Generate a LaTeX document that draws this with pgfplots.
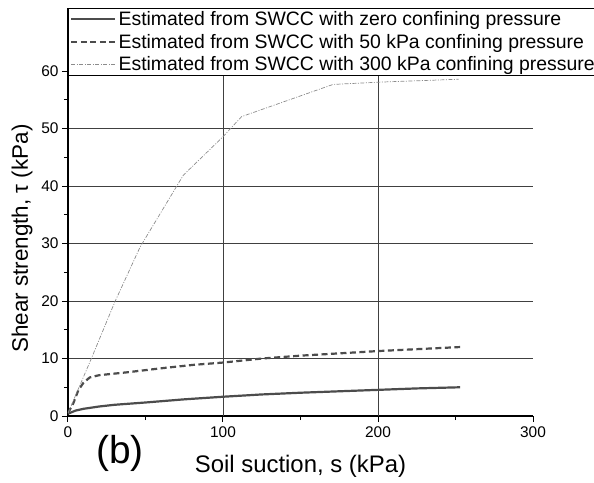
\documentclass[border=0pt]{standalone}
\usepackage{fontspec}
\setmainfont{Liberation Sans}
\usepackage{pgfplots}
\pgfplotsset{compat=1.18}
\begin{document}
\begin{tikzpicture}
\useasboundingbox (-68bp,-67bp) rectangle (526bp,416bp);
\begin{axis}[
  at={(0,0)}, anchor=south west,
  scale only axis, width=465bp, height=408bp,
  xmin=0, xmax=300, ymin=0, ymax=71,
  axis x line=bottom, axis y line=left,
  axis line style={-, line width=1.2bp, black},
  xtick={0,100,200,300}, ytick={0,10,...,60},
  minor x tick num=1, minor y tick num=1,
  tick align=outside, major tick length=6bp, minor tick length=4bp,
  tick style={line width=1bp, black},
  ymajorgrids, grid style={black!75, line width=0.8bp},
  extra x ticks={100,200}, extra x tick labels={},
  extra x tick style={grid=major, major tick length=0pt},
  ticklabel style={font=\fontsize{15.5}{17}\selectfont},
  xticklabel style={yshift=-1bp},
  /pgf/number format/assume math mode=true,
  xlabel={Soil suction, s (kPa)},
  ylabel={Shear strength, τ (kPa)},
  xlabel style={font=\fontsize{24}{28}\selectfont, at={(axis description cs:0.5,-0.1225)}, anchor=center},
  ylabel style={font=\fontsize{22.5}{26}\selectfont, at={(axis description cs:-0.099,0.435)}, anchor=center},
  legend cell align=left,
  legend style={at={(0,1)}, anchor=north west, draw=black, line width=0.8bp, fill=white,
    font=\fontsize{19.5}{22.5}\selectfont, row sep=3bp, inner xsep=2bp, inner ysep=1.2bp},
  legend image code/.code={\draw[#1] (0bp,0bp) -- (44bp,0bp);},
]
\addplot[color=black!70, line width=2.2bp, solid] coordinates {
(0,0.4)(5,0.95)(10,1.25)(20,1.65)(30,1.95)(50,2.35)(75,2.9)(100,3.35)(125,3.75)(150,4.05)(175,4.3)(200,4.55)(225,4.8)(253,5.0)};
\addlegendentry{Estimated from SWCC with zero confining pressure}
\addplot[color=black!70, line width=2.2bp, dash pattern=on 6bp off 3.5bp] coordinates {
(0,0.5)(3.4,2.2)(6.7,4.5)(10,5.8)(14,6.7)(20,7.1)(38,7.6)(60,8.3)(81,8.9)(100,9.3)(125,10.0)(150,10.5)(200,11.3)(253,12.0)};
\addlegendentry{Estimated from SWCC with 50 kPa confining pressure}
\addplot[color=black!45, line width=0.7bp, dash pattern=on 4bp off 1.5bp on 1bp off 1.5bp] coordinates {
(0,0.5)(14.6,9.7)(30.3,19.9)(46.5,29.4)(74.4,41.9)(100,48.6)(112,52.1)(171,57.7)(201,58.1)(252,58.6)};
\addlegendentry{Estimated from SWCC with 300 kPa confining pressure}
\end{axis}
\node[font=\fontsize{39}{44}\selectfont] at (52bp,-37bp) {(b)};
\end{tikzpicture}
\end{document}
